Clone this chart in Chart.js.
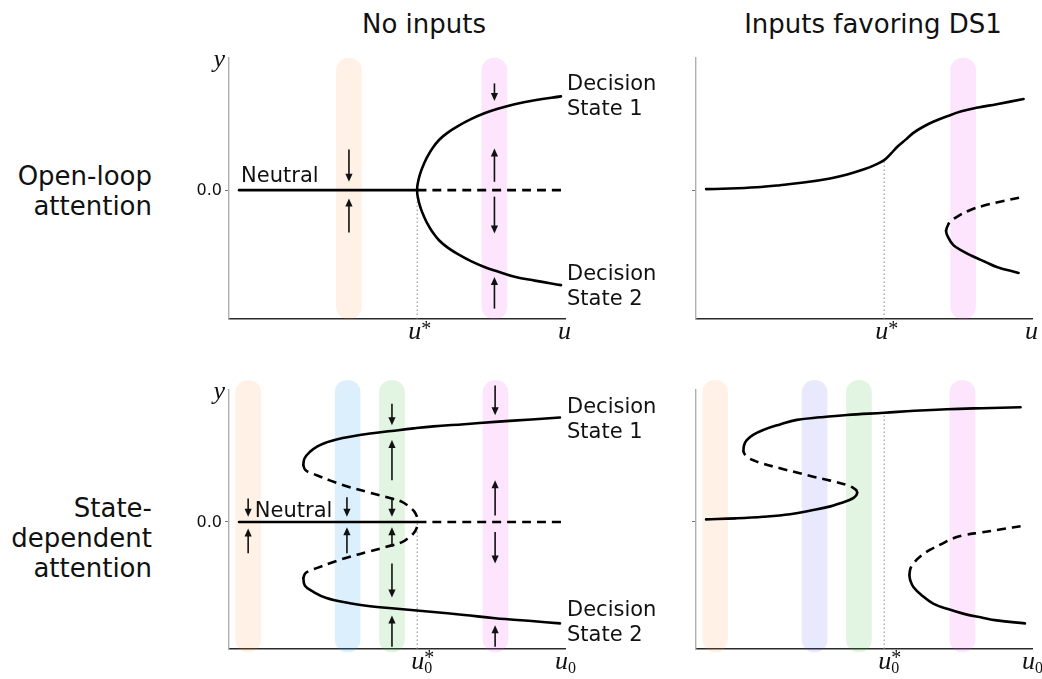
<!DOCTYPE html>
<html>
<head>
<meta charset="utf-8">
<script src="https://cdn.jsdelivr.net/npm/chart.js@4.4.0/dist/chart.umd.min.js"></script>
<style>
  body { margin:0; background:#fff; width:1042px; height:679px; overflow:hidden; position:relative;
         font-family:"DejaVu Sans", sans-serif; color:#111; }
  canvas { position:absolute; }
  .t { position:absolute; font-size:26px; line-height:30px; white-space:nowrap; }
  .row { left:0; width:152px; text-align:right; }
</style>
</head>
<body>
<div class="t" style="left:324px;top:9px;width:200px;text-align:center">No inputs</div>
<div class="t" style="left:723px;top:9px;width:300px;text-align:center">Inputs favoring DS1</div>
<div class="t row" style="top:161px">Open-loop<br>attention</div>
<div class="t row" style="top:493px">State-<br>dependent<br>attention</div>

<canvas id="olNo"></canvas>
<canvas id="olIn"></canvas>
<canvas id="sdNo"></canvas>
<canvas id="sdIn"></canvas>

<script>
// ---- bifurcation parameter and common ranges -------------------------------
const uStar = 0.56;
const olRange = [-0.99, 1.015];
const sdRange = [-0.977, 1.015];
const yTickValues = [0];
const yTickLabels = ['0.0'];

// ---- attention bands --------------------------------------------------------
const bandOrange = 'rgba(255,150,60,0.13)';
const bandSky = 'rgba(40,160,245,0.17)';
const bandLavender = 'rgba(70,70,240,0.12)';
const bandGreen = 'rgba(50,180,50,0.14)';
const bandMagenta = 'rgba(240,70,240,0.14)';

const olNoInputBandsU = [0.357, 0.79];
const olNoInputBandColors = [bandOrange, bandMagenta];
const olInputBandsU = [0.795];
const olInputBandColors = [bandMagenta];
const sdBandsU = [0.057, 0.353, 0.485, 0.793];
const sdNoInputBandColors = [bandOrange, bandSky, bandGreen, bandMagenta];
const sdInputBandColors = [bandOrange, bandLavender, bandGreen, bandMagenta];
const olBandSpan = [-0.99, 1.015];
const sdBandSpan = [-1.0, 1.09];

// ---- open-loop attention, no inputs (pitchfork) -----------------------------
const olNoNeutralStable = [[0.03, 0], [0.56, 0]];
const olNoNeutralUnstable = [[0.56, 0], [0.988, 0]];
const olNoUpper = [[0.56,0],[0.5605,0.03],[0.5625,0.06],[0.566,0.10],[0.572,0.15],[0.58,0.2],[0.59,0.255],
  [0.605,0.32],[0.625,0.385],[0.65,0.44],[0.68,0.49],[0.72,0.545],[0.76,0.59],[0.8,0.625],[0.85,0.66],
  [0.91,0.69],[0.988,0.72]];
const olNoLower = [[0.56,0],[0.5605,-0.03],[0.5625,-0.06],[0.566,-0.10],[0.572,-0.15],[0.58,-0.2],[0.59,-0.255],
  [0.605,-0.32],[0.625,-0.385],[0.65,-0.44],[0.68,-0.49],[0.72,-0.545],[0.76,-0.59],[0.8,-0.625],[0.85,-0.665],
  [0.91,-0.695],[0.988,-0.73]];
const olNoGuide = [[uStar, -0.99], [uStar, 0]];
const olNoArrows = [[0.357,0.313,0.064],[0.357,-0.326,-0.064],
  [0.79,0.82,0.685],[0.79,0.064,0.32],[0.79,-0.05,-0.333],[0.79,-0.91,-0.667]];
const olNoTexts = [['Neutral',0.036,0.06],['Decision',1.006,0.77],['State 1',1.006,0.577],
  ['Decision',1.006,-0.69],['State 2',1.006,-0.885]];

// ---- open-loop attention, inputs favoring DS1 (unfolded) --------------------
const olInMain = [[0.03,0.008],[0.1,0.012],[0.18,0.022],[0.25,0.038],[0.32,0.058],[0.399,0.09],[0.45,0.12],
  [0.5,0.16],[0.53,0.19],[0.56,0.23],[0.58,0.28],[0.6,0.335],[0.625,0.39],[0.647,0.44],[0.675,0.485],
  [0.706,0.525],[0.75,0.57],[0.79,0.605],[0.84,0.635],[0.895,0.66],[0.975,0.7]];
const olInSaddle = [[0.744,-0.313],[0.748,-0.28],[0.756,-0.244],[0.78,-0.2],[0.815,-0.154],[0.855,-0.12],
  [0.895,-0.095],[0.965,-0.056]];
const olInLower = [[0.744,-0.313],[0.748,-0.35],[0.766,-0.423],[0.795,-0.47],[0.825,-0.51],[0.86,-0.55],
  [0.895,-0.59],[0.96,-0.636]];
const olInGuide = [[uStar, -0.99], [uStar, 0.23]];

// ---- state-dependent attention, no inputs (subcritical pitchfork) -----------
const sdNoNeutralStable = [[0.03, 0], [0.56, 0]];
const sdNoNeutralUnstable = [[0.56, 0], [0.988, 0]];
const sdNoUpperStable = [[0.221,0.438],[0.225,0.49],[0.241,0.54],[0.262,0.58],[0.29,0.612],[0.32,0.635],
  [0.36,0.656],[0.42,0.68],[0.484,0.7],[0.55,0.72],[0.608,0.735],[0.7,0.752],[0.792,0.77],[0.9,0.788],
  [0.985,0.803]];
const sdNoUpperUnstable = [[0.221,0.438],[0.227,0.4],[0.245,0.375],[0.261,0.36],[0.3,0.32],[0.35,0.275],
  [0.42,0.225],[0.484,0.18],[0.515,0.155],[0.535,0.12],[0.55,0.085],[0.558,0.05],[0.563,0]];
const sdNoLowerUnstable = [[0.221,-0.433],[0.227,-0.395],[0.245,-0.37],[0.261,-0.355],[0.3,-0.318],
  [0.35,-0.275],[0.42,-0.225],[0.484,-0.18],[0.515,-0.155],[0.535,-0.12],[0.55,-0.085],[0.558,-0.05],[0.563,0]];
const sdNoLowerStable = [[0.221,-0.433],[0.226,-0.49],[0.25,-0.536],[0.29,-0.585],[0.36,-0.625],
  [0.42,-0.648],[0.484,-0.664],[0.6,-0.69],[0.7,-0.715],[0.792,-0.74],[0.9,-0.762],[0.985,-0.78]];
const sdNoGuide = [[uStar, -0.977], [uStar, 0]];
const sdNoArrows = [[0.057,0.18,0.04],[0.057,-0.24,-0.05],
  [0.351,0.19,0.04],[0.351,-0.24,-0.04],
  [0.485,0.91,0.744],[0.485,0.32,0.63],[0.485,0.18,0.04],[0.485,-0.19,-0.04],[0.485,-0.32,-0.58],[0.485,-0.96,-0.72],
  [0.792,1.05,0.82],[0.792,0.05,0.32],[0.792,-0.077,-0.32],[0.792,-0.96,-0.795]];
const sdNoTexts = [['Neutral',0.077,0.04],['Decision',1.006,0.84],['State 1',1.006,0.646],
  ['Decision',1.006,-0.72],['State 2',1.006,-0.915]];

// ---- state-dependent attention, inputs favoring DS1 -------------------------
const sdInLowStable = [[0.03,0.02],[0.12,0.028],[0.2,0.04],[0.28,0.06],[0.349,0.092],[0.4,0.12],
  [0.429,0.144],[0.455,0.167],[0.469,0.185],[0.477,0.205],[0.48,0.225]];
const sdInMidUnstable = [[0.48,0.225],[0.477,0.245],[0.468,0.262],[0.449,0.285],[0.4,0.318],[0.349,0.348],
  [0.3,0.38],[0.25,0.413],[0.2,0.448],[0.175,0.47],[0.155,0.495],[0.145,0.52],[0.141,0.545]];
const sdInHighStable = [[0.141,0.545],[0.143,0.59],[0.151,0.63],[0.17,0.67],[0.2,0.708],[0.25,0.75],
  [0.3,0.785],[0.37,0.805],[0.449,0.823],[0.56,0.84],[0.65,0.855],[0.746,0.867],[0.85,0.875],[0.966,0.882]];
const sdInSaddle = [[0.635,-0.41],[0.638,-0.36],[0.647,-0.318],[0.67,-0.26],[0.696,-0.215],[0.73,-0.17],
  [0.766,-0.125],[0.8,-0.1],[0.845,-0.082],[0.9,-0.06],[0.984,-0.025]];
const sdInLower = [[0.635,-0.41],[0.638,-0.45],[0.647,-0.5],[0.67,-0.56],[0.706,-0.628],[0.75,-0.67],
  [0.795,-0.705],[0.85,-0.735],[0.895,-0.757],[0.979,-0.78]];
const sdInGuide = [[uStar, -0.977], [uStar, 0.84]];

// ---- helpers ----------------------------------------------------------------
const sansFont = '"DejaVu Sans", sans-serif';
const mathFont = '"Liberation Serif", "DejaVu Serif", serif';

const toXY = arr => arr.map(([x, y]) => ({x, y}));
const solid = arr => ({data: toXY(arr), showLine: true, borderColor: '#000', borderWidth: 2.6,
  pointRadius: 0, tension: 0.4, fill: false, borderCapStyle: 'round', order: 1});
const dashed = arr => Object.assign(solid(arr), {borderDash: [9, 6], borderCapStyle: 'butt'});
const guide = arr => ({data: toXY(arr), showLine: true, borderColor: '#8a8a8a', borderWidth: 1,
  borderDash: [1.5, 2.5], pointRadius: 0, tension: 0, order: 2});
const bands = (us, colors, span) => ({type: 'bar', data: us.map(u => ({x: u, y: span})),
  backgroundColor: colors, barThickness: 25, borderRadius: 13, borderSkipped: false,
  borderWidth: 0, order: 10, clip: false});

function decor(p) {
  return {
    id: 'decor',
    afterDraw(chart) {
      const {ctx, chartArea: a, scales: {x, y}} = chart;
      ctx.save();
      // flow arrows
      ctx.strokeStyle = '#111'; ctx.fillStyle = '#111'; ctx.lineWidth = 1.6;
      for (const [u, v0, v1] of (p.arrows || [])) {
        const px = x.getPixelForValue(u), p0 = y.getPixelForValue(v0), p1 = y.getPixelForValue(v1);
        const dir = Math.sign(p1 - p0), head = 8;
        ctx.beginPath(); ctx.moveTo(px, p0); ctx.lineTo(px, p1 - dir * head * 0.8); ctx.stroke();
        ctx.beginPath(); ctx.moveTo(px, p1); ctx.lineTo(px - 3.6, p1 - dir * head);
        ctx.lineTo(px + 3.6, p1 - dir * head); ctx.closePath(); ctx.fill();
      }
      // tick labels on the state axis
      if (p.tickLabels) {
        ctx.font = '16px ' + sansFont; ctx.textAlign = 'right'; ctx.textBaseline = 'middle';
        yTickValues.forEach((v, i) => ctx.fillText(yTickLabels[i], a.left - 7, y.getPixelForValue(v) + 1));
      }
      // branch labels
      ctx.font = '21px ' + sansFont; ctx.textAlign = 'left'; ctx.textBaseline = 'alphabetic';
      for (const [t, u, v] of (p.texts || [])) ctx.fillText(t, x.getPixelForValue(u), y.getPixelForValue(v));
      // axis symbols
      const base = a.bottom + 20;
      const xs = x.getPixelForValue(uStar), xe = x.getPixelForValue(1);
      ctx.font = 'italic 26px ' + mathFont;
      if (p.sub) {
        ctx.fillText('u', xs - 6, base);
        ctx.font = '16px ' + mathFont; ctx.fillText('0', xs + 7, base + 4);
        ctx.font = '20px ' + mathFont; ctx.fillText('*', xs + 7, base - 5);
        ctx.font = 'italic 26px ' + mathFont; ctx.fillText('u', xe - 10, base);
        ctx.font = '16px ' + mathFont; ctx.fillText('0', xe + 3, base + 4);
      } else {
        ctx.fillText('u', xs - 9, base);
        ctx.font = '20px ' + mathFont; ctx.fillText('*', xs + 4, base - 4);
        ctx.font = 'italic 26px ' + mathFont; ctx.fillText('u', xe - 7, base);
      }
      if (p.yLabel) {
        ctx.font = 'italic 26px ' + mathFont; ctx.textAlign = 'right';
        ctx.fillText('y', a.left - 4, a.top + 9);
      }
      ctx.restore();
    }
  };
}

function panel(id, box, cfg) {
  const c = document.getElementById(id);
  c.width = box.w; c.height = box.h;
  c.style.left = box.x + 'px'; c.style.top = box.y + 'px';
  new Chart(c, {
    type: 'scatter',
    data: {datasets: cfg.datasets},
    options: {
      responsive: false, animation: false, events: [],
      layout: {padding: box.pad},
      plugins: {legend: {display: false}, tooltip: {enabled: false}},
      scales: {
        x: {type: 'linear', min: 0, max: 1, offset: false,
            ticks: {display: false},
            grid: {display: true, offset: false, drawOnChartArea: false, drawTicks: false},
            border: {display: true, color: '#2a2a2a', width: 1.4},
            afterFit: s => { s.height = 0; }},
        y: {type: 'linear', min: cfg.range[0], max: cfg.range[1], offset: false,
            afterBuildTicks: s => { s.ticks = yTickValues.map(value => ({value})); },
            ticks: {callback: () => '', padding: 3},
            grid: {display: true, drawOnChartArea: false, drawTicks: true, tickLength: 4, color: '#777'},
            border: {display: true, color: '#b0b0b0', width: 1.4},
            afterFit: s => { s.width = box.axisW; }}
      }
    },
    plugins: [decor(cfg)]
  });
}

panel('olNo', {x: 160, y: 40, w: 510, h: 310, axisW: 49, pad: {left: 20, top: 18, right: 105, bottom: 31}}, {
  range: olRange, tickLabels: true, yLabel: true, arrows: olNoArrows, texts: olNoTexts,
  datasets: [bands(olNoInputBandsU, olNoInputBandColors, olBandSpan), guide(olNoGuide),
    solid(olNoNeutralStable), dashed(olNoNeutralUnstable), solid(olNoUpper), solid(olNoLower)]
});
panel('olIn', {x: 670, y: 40, w: 372, h: 310, axisW: 26, pad: {left: 0, top: 18, right: 10, bottom: 31}}, {
  range: olRange,
  datasets: [bands(olInputBandsU, olInputBandColors, olBandSpan), guide(olInGuide),
    solid(olInMain), dashed(olInSaddle), solid(olInLower)]
});
panel('sdNo', {x: 160, y: 365, w: 510, h: 314, axisW: 49, pad: {left: 20, top: 25, right: 105, bottom: 30}}, {
  range: sdRange, tickLabels: true, yLabel: true, sub: true, arrows: sdNoArrows, texts: sdNoTexts,
  datasets: [bands(sdBandsU, sdNoInputBandColors, sdBandSpan), guide(sdNoGuide),
    solid(sdNoNeutralStable), dashed(sdNoNeutralUnstable), solid(sdNoUpperStable), dashed(sdNoUpperUnstable),
    dashed(sdNoLowerUnstable), solid(sdNoLowerStable)]
});
panel('sdIn', {x: 670, y: 365, w: 372, h: 314, axisW: 26, pad: {left: 0, top: 25, right: 10, bottom: 30}}, {
  range: sdRange, sub: true,
  datasets: [bands(sdBandsU, sdInputBandColors, sdBandSpan), guide(sdInGuide),
    solid(sdInLowStable), dashed(sdInMidUnstable), solid(sdInHighStable), dashed(sdInSaddle), solid(sdInLower)]
});
</script>
</body>
</html>
